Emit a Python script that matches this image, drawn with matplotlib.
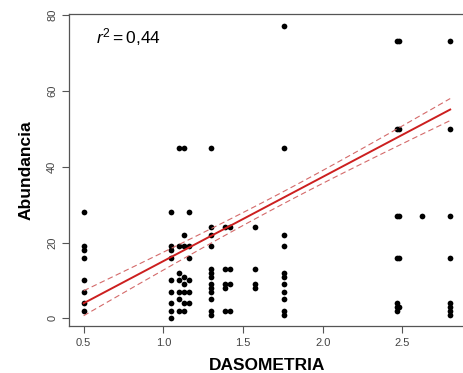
import numpy as np
import matplotlib
matplotlib.use('Agg')
import matplotlib.pyplot as plt

plt.rcParams['font.family'] = ['Liberation Sans', 'DejaVu Sans']
plt.rcParams['mathtext.fontset'] = 'custom'
plt.rcParams['mathtext.it'] = 'Liberation Sans:italic'
plt.rcParams['mathtext.rm'] = 'Liberation Sans'

# DASOMETRIA value -> Abundancia values
cols = {
    0.50: [28, 19, 18, 16, 10, 7, 4, 2],
    1.05: [28, 19, 18, 16, 10, 7, 4, 2, 0],
    1.10: [45, 19, 12, 10, 7, 5, 2],
    1.13: [45, 22, 19, 11, 9, 7, 4, 2],
    1.16: [28, 19, 16, 10, 7, 4],
    1.30: [45, 24, 22, 19, 13, 12, 11, 9, 8, 7, 5, 2, 1],
    1.39: [24, 13, 9, 8, 2],
    1.42: [24, 13, 9, 2],
    1.575: [24, 13, 9, 8],
    1.76: [77, 45, 22, 19, 12, 11, 9, 7, 5, 2, 1],
    2.465: [73, 50, 27, 16, 4, 3, 2],
    2.478: [73, 50, 27, 16, 3],
    2.625: [27],
    2.80: [73, 50, 27, 16, 4, 3, 2, 1],
}
x = np.concatenate([[k] * len(v) for k, v in cols.items()])
y = np.concatenate([v for v in cols.values()])

# fitted line and confidence band
fit_a, fit_b = -7.1, 22.2
ci_h0, ci_k, ci_xm = 1.6, 2.3, 1.75
r2_text = '$r^2 = $0,44'

xx = np.linspace(0.5, 2.8, 100)
yy = fit_a + fit_b * xx
hw = np.sqrt(ci_h0**2 + ci_k**2 * (xx - ci_xm)**2)

fig = plt.figure(figsize=(4.63, 3.73), dpi=100)
ax = fig.add_axes([0.149, 0.126, 0.855, 0.836])

ax.scatter(x, y, s=17, color='black', zorder=3, linewidths=0)
ax.plot(xx, yy, color='#cc1f1f', lw=1.4, zorder=4)
ax.plot(xx, yy + hw, color='#d46a6a', lw=0.8, ls=(0, (5, 3)), zorder=4)
ax.plot(xx, yy - hw, color='#d46a6a', lw=0.8, ls=(0, (5, 3)), zorder=4)

ax.set_xlim(0.408, 2.892)
ax.set_ylim(-2, 80.2)
ax.set_xticks([0.5, 1.0, 1.5, 2.0, 2.5])
ax.set_yticks([0, 20, 40, 60, 80])
ax.tick_params(direction='out', length=5, width=0.8, color='#555555',
               labelcolor='#444444', labelsize=8)
for lab in ax.get_yticklabels():
    lab.set_rotation(90)
    lab.set_va('center')
for s in ax.spines.values():
    s.set_color('#555555')
    s.set_linewidth(0.9)

ax.set_xlabel('DASOMETRIA', fontsize=12.5, fontweight='bold', labelpad=7)
ax.set_ylabel('Abundancia', fontsize=12.5, fontweight='bold', labelpad=10)
ax.text(0.575, 74.2, r2_text, fontsize=12.5, va='center', ha='left')

fig.savefig('out.png', dpi=100)
